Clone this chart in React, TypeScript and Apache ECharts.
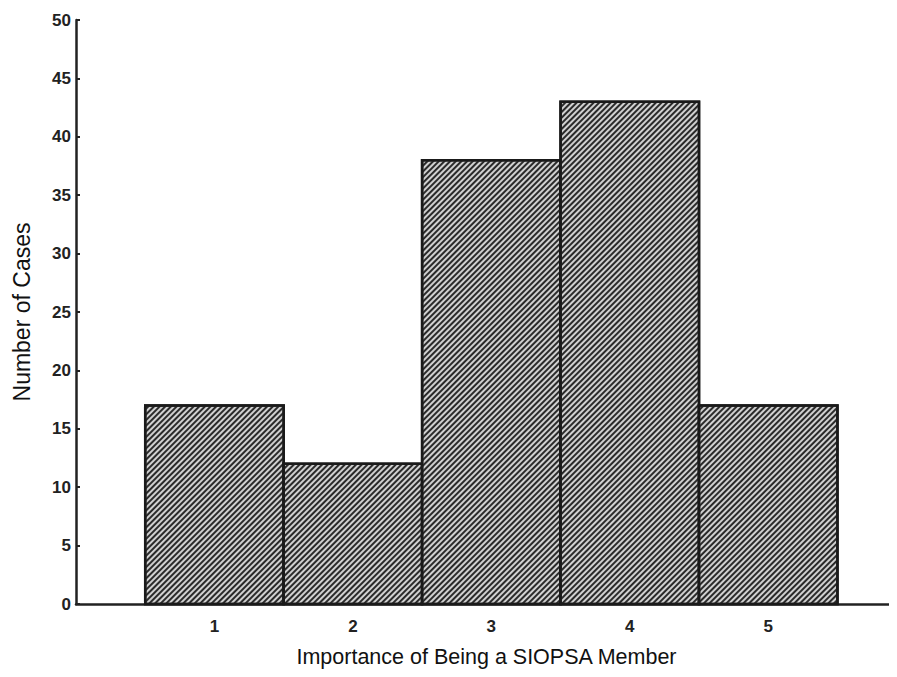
import React, { useEffect, useRef } from "react";
import * as echarts from "echarts";

const categories = [1, 2, 3, 4, 5];
const cases = [17, 12, 38, 43, 17];
const yTicks = [0, 5, 10, 15, 20, 25, 30, 35, 40, 45, 50];

export default function App() {
  const ref = useRef<HTMLDivElement>(null);
  useEffect(() => {
    const chart = echarts.init(ref.current!, null, { renderer: "svg" });
    const data = categories.map((c, i) => [c, cases[i]]);
    chart.setOption({
      animation: false,
      backgroundColor: "#fff",
      grid: { left: 68, right: 0, top: 12, bottom: 65, containLabel: false, outerBoundsMode: "none" },
      xAxis: {
        type: "value",
        min: 0,
        max: 5.93,
        interval: 1,
        name: "Importance of Being a SIOPSA Member",
        nameLocation: "middle",
        nameGap: 42,
        nameTextStyle: { fontFamily: "Liberation Sans, Arial", fontSize: 21.5, color: "#111" },
        axisLine: { show: true, lineStyle: { color: "#222", width: 2.5 } },
        axisTick: { show: false },
        splitLine: { show: false },
        axisLabel: {
          fontFamily: "Liberation Sans, Arial",
          fontSize: 17,
          fontWeight: "bold",
          color: "#222",
          margin: 14,
          formatter: (v: number) => (categories.includes(v) ? String(v) : ""),
        },
      },
      yAxis: {
        type: "value",
        min: 0,
        max: yTicks[yTicks.length - 1],
        interval: 5,
        name: "Number of Cases",
        nameLocation: "middle",
        nameGap: 43,
        nameTextStyle: { fontFamily: "Liberation Sans, Arial", fontSize: 23, color: "#111" },
        axisLine: { show: true, lineStyle: { color: "#222", width: 2.5 } },
        axisTick: { show: true, inside: true, length: 4, lineStyle: { color: "#222", width: 2 } },
        splitLine: { show: false },
        axisLabel: {
          fontFamily: "Liberation Sans, Arial",
          fontSize: 17,
          fontWeight: "bold",
          color: "#222",
          margin: 5,
        },
      },
      series: [
        {
          type: "custom",
          data,
          renderItem: (params: any, api: any) => {
            const x = api.value(0);
            const y = api.value(1);
            const p0 = api.coord([x - 0.5, 0]);
            const p1 = api.coord([x + 0.5, y]);
            return {
              type: "rect",
              shape: { x: p0[0], y: p1[1], width: p1[0] - p0[0], height: p0[1] - p1[1] },
              style: {
                fill: "#d0d0d0",
                stroke: "#1a1a1a",
                lineWidth: 2.5,
                decal: {
                  symbol: "rect",
                  symbolSize: 1,
                  color: "#2a2a2a",
                  dashArrayX: [1, 0],
                  dashArrayY: [1.5, 1.5],
                  rotation: -Math.PI / 4,
                },
              },
            };
          },
        },
      ],
    });
    return () => chart.dispose();
  }, []);
  return <div ref={ref} style={{ width: 889, height: 661 }} />;
}
